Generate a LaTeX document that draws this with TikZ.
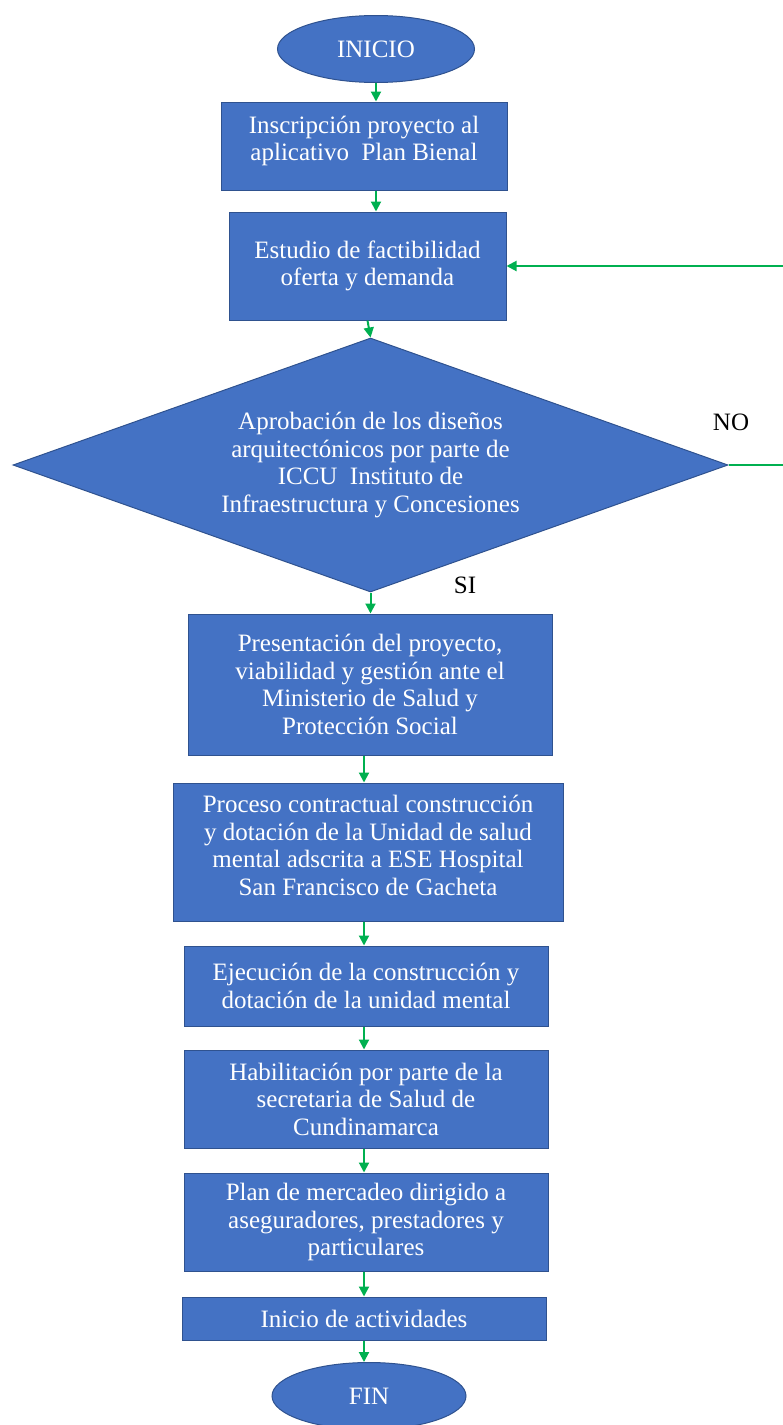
\documentclass[tikz,border=0pt]{standalone}
\usepackage{fontspec}
\setmainfont{Liberation Serif}
\usepackage{tikz}
\usetikzlibrary{arrows.meta, shapes.geometric}
\definecolor{boxblue}{HTML}{4472C4}
\definecolor{edgeblue}{HTML}{2F528F}
\definecolor{flowgreen}{HTML}{00B050}
\tikzset{
  procbox/.style={draw=edgeblue, line width=1pt, fill=boxblue, text=white,
    align=center, font=\fontsize{25}{27.5}\selectfont, inner sep=0pt},
  termbox/.style={ellipse, draw=edgeblue, line width=1pt, fill=boxblue, text=white,
    font=\fontsize{25}{27.5}\selectfont, inner sep=0pt},
  decibox/.style={diamond, draw=edgeblue, line width=1pt, fill=boxblue, text=white,
    align=center, font=\fontsize{25}{27.5}\selectfont, inner sep=0pt, aspect=2.8},
  lbl/.style={font=\fontsize{25}{27.5}\selectfont, text=black},
  arr/.style={-{Triangle[length=10pt, width=10pt]}, line width=2pt, flowgreen},
}

\begin{document}
\begin{tikzpicture}[x=1pt, y=-1pt]
  \useasboundingbox (0,0) rectangle (783,1425);
  \clip (0,0) rectangle (783,1425);

  % start
  \node[termbox, minimum width=197pt, minimum height=67pt] (inicio) at (376,49) {INICIO};

  % registration and feasibility
  \node[procbox, minimum width=286pt, minimum height=88pt] (insc) at (364,146)
    {Inscripción proyecto al\\aplicativo~ Plan Bienal\\[-12pt]};
  \node[procbox, minimum width=277pt, minimum height=108pt] (estudio) at (367.5,266)
    {Estudio de factibilidad\\oferta y demanda};

  % decision
  \node[decibox, minimum width=715pt, minimum height=254pt] (aprob) at (370.5,465)
    {Aprobación de los diseños\\arquitectónicos por parte de\\ICCU~ Instituto de\\Infraestructura y Concesiones};
  \node[lbl] (no) at (731,422) {NO};
  \node[lbl] (si) at (465,585) {SI};

  % execution chain
  \node[procbox, minimum width=364pt, minimum height=141pt] (present) at (370,684.5)
    {Presentación del proyecto,\\viabilidad y gestión ante el\\Ministerio de Salud y\\Protección Social};
  \node[procbox, minimum width=390pt, minimum height=138pt] (contrato) at (368,852)
    {Proceso contractual construcción\\y dotación de la Unidad de salud\\mental adscrita a ESE Hospital\\San Francisco de Gacheta\\[-14pt]};
  \node[procbox, minimum width=364pt, minimum height=80pt] (ejec) at (366,986)
    {Ejecución de la construcción y\\dotación de la unidad mental};
  \node[procbox, minimum width=364pt, minimum height=98pt] (habil) at (366,1099)
    {Habilitación por parte de la\\secretaria de Salud de\\Cundinamarca};
  \node[procbox, minimum width=364pt, minimum height=98pt] (mercadeo) at (366,1222)
    {Plan de mercadeo dirigido a\\aseguradores, prestadores y\\particulares};
  \node[procbox, minimum width=364pt, minimum height=43pt] (activ) at (364,1318.5)
    {Inicio de actividades};

  % end
  \node[termbox, minimum width=194pt, minimum height=67pt] (fin) at (369,1396) {FIN};

  % connectors
  \draw[arr] (inicio.south) -- (inicio.south |- insc.north);
  \draw[arr] (inicio.south |- insc.south) -- (inicio.south |- estudio.north);
  \draw[arr] (estudio.south) -- (aprob.north);
  \draw[arr] (aprob.south) -- (aprob.south |- present.north);
  \draw[arr] (activ.south |- present.south) -- (activ.south |- contrato.north);
  \draw[arr] (activ.south |- contrato.south) -- (activ.south |- ejec.north);
  \draw[arr] (activ.south |- ejec.south) -- (activ.south |- habil.north);
  \draw[arr] (activ.south |- habil.south) -- (activ.south |- mercadeo.north);
  \draw[arr] (activ.south |- mercadeo.south) -- (activ.north);
  \draw[arr] (activ.south) -- (activ.south |- fin.north);
  \draw[arr] (aprob.east) -- ++(90,0) |- (estudio.east);
\end{tikzpicture}
\end{document}
